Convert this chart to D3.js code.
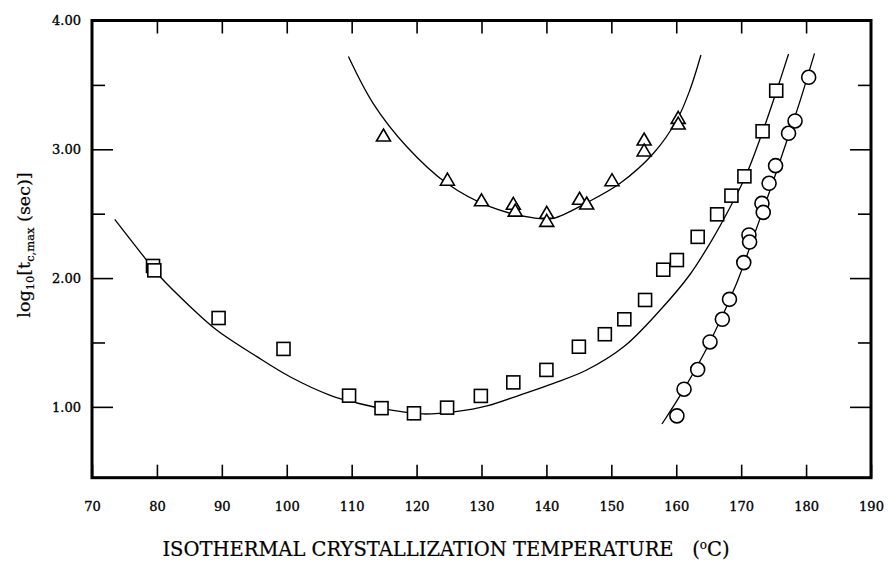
<!DOCTYPE html>
<html>
<head>
<meta charset="utf-8">
<script src="https://cdn.jsdelivr.net/npm/d3@7"></script>
<style>
  body { margin: 0; background: #fff; }
  svg { display: block; }
  text { font-family: "DejaVu Serif", serif; fill: #000; }
</style>
</head>
<body>
<svg id="chart" width="888" height="569"></svg>
<script>
// measured points, temperature (C) vs log10 of t_c,max (sec)
const squareT = [79.4, 79.6, 89.5, 99.5, 109.6, 114.6, 119.6, 124.7, 129.9, 134.9, 140.0, 145.0, 149.0, 152.0, 155.2, 158.0, 160.1, 163.3, 166.3, 168.5, 170.5, 173.3, 175.4];
const squareV = [2.094, 2.06, 1.69, 1.45, 1.087, 0.99, 0.95, 0.994, 1.085, 1.19, 1.287, 1.467, 1.564, 1.68, 1.83, 2.065, 2.14, 2.32, 2.495, 2.64, 2.79, 3.14, 3.455];

const triangleT = [114.9, 124.75, 130.0, 134.9, 135.2, 140.05, 140.05, 145.1, 146.2, 150.1, 155.05, 155.05, 160.3, 160.3];
const triangleV = [3.103, 2.76, 2.60, 2.573, 2.52, 2.503, 2.44, 2.612, 2.575, 2.756, 3.072, 2.987, 3.24, 3.196];

const circleT = [160.1, 161.2, 163.3, 165.2, 167.1, 168.2, 170.4, 171.2, 171.3, 173.2, 173.4, 174.3, 175.3, 177.3, 178.3, 180.4];
const circleV = [0.93, 1.137, 1.29, 1.504, 1.68, 1.835, 2.12, 2.335, 2.28, 2.58, 2.51, 2.736, 2.873, 3.124, 3.22, 3.559];

// fitted curves
const squareFitT = [73.5, 78.4, 80.5, 85.1, 89.2, 95.4, 100.5, 106.7, 110.8, 115.9, 121.0, 126.0, 131.0, 135.9, 141.1, 146.2, 152.0, 157.5, 162.0, 165.2, 168.3, 170.85, 173.4, 175.5, 177.3];
const squareFitV = [2.456, 2.14, 2.01, 1.78, 1.597, 1.39, 1.234, 1.09, 1.03, 0.976, 0.945, 0.963, 1.01, 1.092, 1.183, 1.286, 1.47, 1.75, 2.02, 2.27, 2.55, 2.81, 3.15, 3.46, 3.74];

const triangleFitT = [109.5, 113.3, 118.5, 124.65, 131.3, 138.5, 141.05, 146.2, 151.35, 156.5, 160.1, 162.1, 163.8];
const triangleFitV = [3.72, 3.357, 3.02, 2.736, 2.554, 2.464, 2.464, 2.585, 2.736, 2.969, 3.227, 3.46, 3.732];

const circleFitT = [157.8, 161.1, 165.2, 169.3, 171.9, 174.5, 177.0, 179.1, 181.3];
const circleFitV = [0.867, 1.13, 1.504, 1.96, 2.32, 2.69, 3.06, 3.38, 3.745];

const xTicks = [70, 80, 90, 100, 110, 120, 130, 140, 150, 160, 170, 180, 190];
const yMajor = [1, 2, 3, 4];
const yMinor = [1.5, 2.5, 3.5];

const svg = d3.select("#chart");
const plotL = 92, plotR = 871, plotT = 20.5, plotB = 477.7;

const x = d3.scaleLinear().domain([70, 190]).range([plotL, plotR]);
const y = d3.scaleLinear().domain([0.45, 4.0]).range([plotB, plotT]);

function zip(a, b) { return a.map((d, i) => [d, b[i]]); }

// axes, ticks pointing into the frame
svg.append("g").attr("transform", `translate(0,${plotB})`)
  .call(d3.axisBottom(x).tickValues(xTicks).tickSizeInner(-13).tickSizeOuter(0).tickPadding(24).tickFormat(d3.format("d")));
svg.append("g").attr("transform", `translate(0,${plotT})`)
  .call(d3.axisTop(x).tickValues(xTicks.slice(1, -1)).tickSizeInner(-13).tickSizeOuter(0).tickFormat(""));
svg.append("g").attr("transform", `translate(${plotL},0)`)
  .call(d3.axisLeft(y).tickValues(yMajor).tickSizeInner(-21).tickSizeOuter(0).tickPadding(11).tickFormat(d3.format(".2f")));
svg.append("g").attr("transform", `translate(${plotL},0)`)
  .call(d3.axisLeft(y).tickValues(yMinor).tickSizeInner(-13).tickSizeOuter(0).tickFormat(""));
svg.append("g").attr("transform", `translate(${plotR},0)`)
  .call(d3.axisRight(y).tickValues(yMajor.slice(0, -1)).tickSizeInner(-21).tickSizeOuter(0).tickFormat(""));
svg.append("g").attr("transform", `translate(${plotR},0)`)
  .call(d3.axisRight(y).tickValues(yMinor).tickSizeInner(-13).tickSizeOuter(0).tickFormat(""));

svg.selectAll(".domain").remove();
svg.selectAll(".tick line").attr("stroke", "#000").attr("stroke-width", 1.6);
svg.selectAll(".tick text")
  .style("font-family", "'DejaVu Serif', serif")
  .attr("font-size", 13)
  .attr("fill", "#000")
  .attr("stroke", "#000")
  .attr("stroke-width", 0.35);

// frame
svg.append("rect")
  .attr("x", plotL).attr("y", plotT)
  .attr("width", plotR - plotL).attr("height", plotB - plotT)
  .attr("fill", "none").attr("stroke", "#000").attr("stroke-width", 3);

// fit lines
const line = d3.line()
  .x(d => x(d[0])).y(d => y(d[1]))
  .curve(d3.curveCatmullRom);

[[squareFitT, squareFitV], [triangleFitT, triangleFitV], [circleFitT, circleFitV]].forEach(([t, v]) => {
  svg.append("path")
    .datum(zip(t, v))
    .attr("d", line)
    .attr("fill", "none")
    .attr("stroke", "#000")
    .attr("stroke-width", 1.3);
});

// markers
const marks = svg.append("g")
  .attr("fill", "#fff").attr("stroke", "#000").attr("stroke-width", 1.6);

marks.selectAll("rect.sq").data(zip(squareT, squareV)).enter().append("rect")
  .attr("class", "sq")
  .attr("x", d => x(d[0]) - 6.5).attr("y", d => y(d[1]) - 6.5)
  .attr("width", 13).attr("height", 13);

marks.selectAll("path.tri").data(zip(triangleT, triangleV)).enter().append("path")
  .attr("class", "tri")
  .attr("d", d => {
    const cx = x(d[0]), cy = y(d[1]);
    return `M${cx},${cy - 7}L${cx + 7},${cy + 5}L${cx - 7},${cy + 5}Z`;
  });

marks.selectAll("circle").data(zip(circleT, circleV)).enter().append("circle")
  .attr("cx", d => x(d[0])).attr("cy", d => y(d[1]))
  .attr("r", 7);

// axis titles
const xt = svg.append("text")
  .attr("x", 446).attr("y", 556)
  .attr("text-anchor", "middle")
  .attr("font-size", 19.5)
  .attr("stroke", "#000").attr("stroke-width", 0.2);
xt.append("tspan").text("ISOTHERMAL CRYSTALLIZATION TEMPERATURE\u00a0\u00a0\u00a0(");
xt.append("tspan").attr("font-size", 12).attr("dy", -7).text("o");
xt.append("tspan").attr("dy", 7).text("C)");

const yt = svg.append("text")
  .attr("transform", "translate(30,245) rotate(-90)")
  .attr("text-anchor", "middle")
  .attr("font-size", 17.5)
  .attr("stroke", "#000").attr("stroke-width", 0.2);
yt.append("tspan").text("log");
yt.append("tspan").attr("font-size", 11.5).attr("dy", 4).text("10");
yt.append("tspan").attr("dy", -4).text("[t");
yt.append("tspan").attr("font-size", 11.5).attr("dy", 4).text("c,max");
yt.append("tspan").attr("dy", -4).text(" (sec)]");
</script>
</body>
</html>
